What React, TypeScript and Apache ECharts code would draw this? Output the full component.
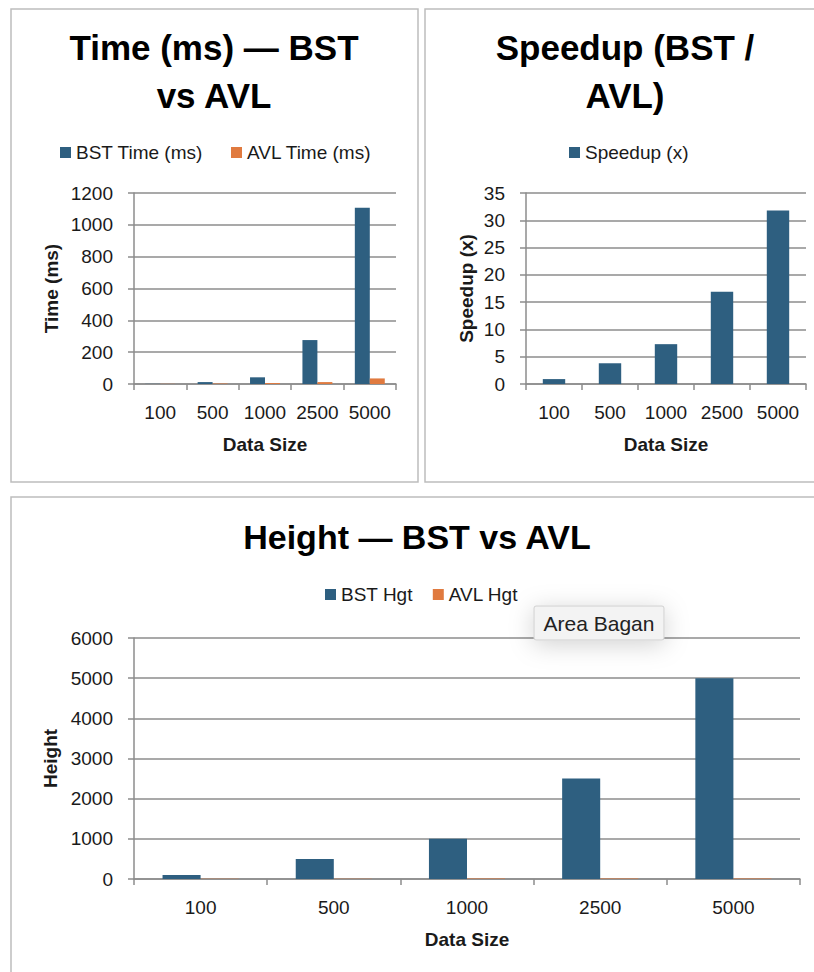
import React, { useEffect, useRef } from "react";
import * as echarts from "echarts";

const categories = ["100", "500", "1000", "2500", "5000"];
const bstTime = [1, 12, 42, 276, 1108];
const avlTime = [1, 3, 6, 12, 35];
const speedup = [0.9, 3.8, 7.3, 16.9, 31.8];
const bstHeight = [100, 500, 1000, 2500, 5000];
const avlHeight = [7, 9, 10, 12, 13];
const timeAxis = [0, 1200, 200];
const speedAxis = [0, 35, 5];
const heightAxis = [0, 6000, 1000];

const BLUE = "#2E5F80";
const ORANGE = "#E07A3F";
const GRID = "#8c8c8c";
const FONT = "Liberation Sans, Arial, sans-serif";
const TXT = "#1a1a1a";
const FS = 19;

function xAx(gridIndex: number) {
  return {
    type: "category",
    gridIndex,
    data: categories,
    boundaryGap: true,
    name: "Data Size",
    nameLocation: "middle",
    nameGap: 51,
    nameTextStyle: { fontSize: FS, fontWeight: "bold", color: TXT, fontFamily: FONT },
    axisLine: { show: true, lineStyle: { color: GRID, width: 1.5 } },
    axisTick: { show: true, length: 6, lineStyle: { color: GRID, width: 1.5 } },
    axisLabel: { fontSize: FS, color: TXT, margin: 19, fontFamily: FONT, interval: 0 },
  };
}

function yAx(gridIndex: number, range: number[], name: string, nameGap: number) {
  return {
    type: "value",
    gridIndex,
    min: range[0],
    max: range[1],
    interval: range[2],
    name,
    nameLocation: "middle",
    nameRotate: 90,
    nameGap,
    nameTextStyle: { fontSize: FS, fontWeight: "bold", color: TXT, fontFamily: FONT },
    axisLine: { show: true, lineStyle: { color: GRID, width: 1.5 } },
    axisTick: { show: true, length: 6, lineStyle: { color: GRID, width: 1.5 } },
    axisLabel: { fontSize: FS, color: TXT, margin: 21, fontFamily: FONT, formatter: (v: number) => String(v) },
    splitLine: { show: true, lineStyle: { color: GRID, width: 1.5 } },
  };
}

function legend(data: string[], left: number, top: number, itemGap: number) {
  return {
    data,
    left,
    top,
    padding: 0,
    itemWidth: 11,
    itemHeight: 11,
    itemGap,
    icon: "rect",
    selectedMode: false,
    textStyle: { fontSize: FS, color: TXT, fontFamily: FONT, lineHeight: 19, padding: [0, 0, 0, 0] },
  };
}

function titleText(text: string, x: number, y: number, size: number, lh: number) {
  return {
    type: "text",
    x,
    y,
    style: {
      text,
      fill: "#000",
      font: `bold ${size}px ${FONT}`,
      textAlign: "center",
      textVerticalAlign: "middle",
      lineHeight: lh,
    },
  };
}

export default function App() {
  const ref = useRef<HTMLDivElement>(null);
  useEffect(() => {
    if (!ref.current) return;
    const chart = echarts.init(ref.current, null, { renderer: "svg" });
    chart.setOption({
      animation: false,
      backgroundColor: "#fff",
      graphic: [
        { type: "rect", shape: { x: 11, y: 9, width: 407, height: 473 }, style: { fill: "none", stroke: "#bdbdbd", lineWidth: 1.5 } },
        { type: "rect", shape: { x: 425, y: 9, width: 400, height: 473 }, style: { fill: "none", stroke: "#bdbdbd", lineWidth: 1.5 } },
        { type: "rect", shape: { x: 11, y: 497, width: 820, height: 490 }, style: { fill: "none", stroke: "#bdbdbd", lineWidth: 1.5 } },
        titleText("Time (ms) — BST\nvs AVL", 214, 71, 35, 48),
        titleText("Speedup (BST /\nAVL)", 625, 71, 35, 48),
        titleText("Height — BST vs AVL", 417, 537, 34, 36),
        {
          type: "rect",
          z: 100,
          shape: { x: 534, y: 606, width: 130, height: 34, r: 2 },
          style: { fill: "#f3f3f3", stroke: "#cfcfcf", lineWidth: 1, shadowBlur: 24, shadowColor: "rgba(0,0,0,0.18)", shadowOffsetY: 4 },
        },
        {
          type: "text",
          z: 101,
          x: 599,
          y: 623,
          style: { text: "Area Bagan", fill: "#222", font: `21px ${FONT}`, textAlign: "center", textVerticalAlign: "middle" },
        },
      ],
      legend: [
        legend(["BST Time (ms)", "AVL Time (ms)"], 60, 143, 28),
        legend(["Speedup (x)"], 569, 143, 10),
        legend(["BST Hgt", "AVL Hgt"], 325, 585, 20),
      ],
      grid: [
        { left: 134, top: 193, width: 262, height: 191 },
        { left: 526, top: 193, width: 280, height: 191 },
        { left: 134, top: 638, width: 666, height: 241 },
      ],
      xAxis: [xAx(0), xAx(1), xAx(2)],
      yAxis: [
        yAx(0, timeAxis, "Time (ms)", 73),
        yAx(1, speedAxis, "Speedup (x)", 50),
        yAx(2, heightAxis, "Height", 73),
      ],
      series: [
        { name: "BST Time (ms)", type: "bar", xAxisIndex: 0, yAxisIndex: 0, data: bstTime, itemStyle: { color: BLUE }, barGap: "0%", barCategoryGap: "42.86%" },
        { name: "AVL Time (ms)", type: "bar", xAxisIndex: 0, yAxisIndex: 0, data: avlTime, itemStyle: { color: ORANGE }, barGap: "0%", barCategoryGap: "42.86%" },
        { name: "Speedup (x)", type: "bar", xAxisIndex: 1, yAxisIndex: 1, data: speedup, itemStyle: { color: BLUE }, barCategoryGap: "60%" },
        { name: "BST Hgt", type: "bar", xAxisIndex: 2, yAxisIndex: 2, data: bstHeight, itemStyle: { color: BLUE }, barGap: "0%", barCategoryGap: "42.86%" },
        { name: "AVL Hgt", type: "bar", xAxisIndex: 2, yAxisIndex: 2, data: avlHeight, itemStyle: { color: ORANGE }, barGap: "0%", barCategoryGap: "42.86%" },
      ],
    });
    return () => chart.dispose();
  }, []);
  return <div ref={ref} style={{ position: "absolute", left: 0, top: 0, width: 814, height: 972 }} />;
}
